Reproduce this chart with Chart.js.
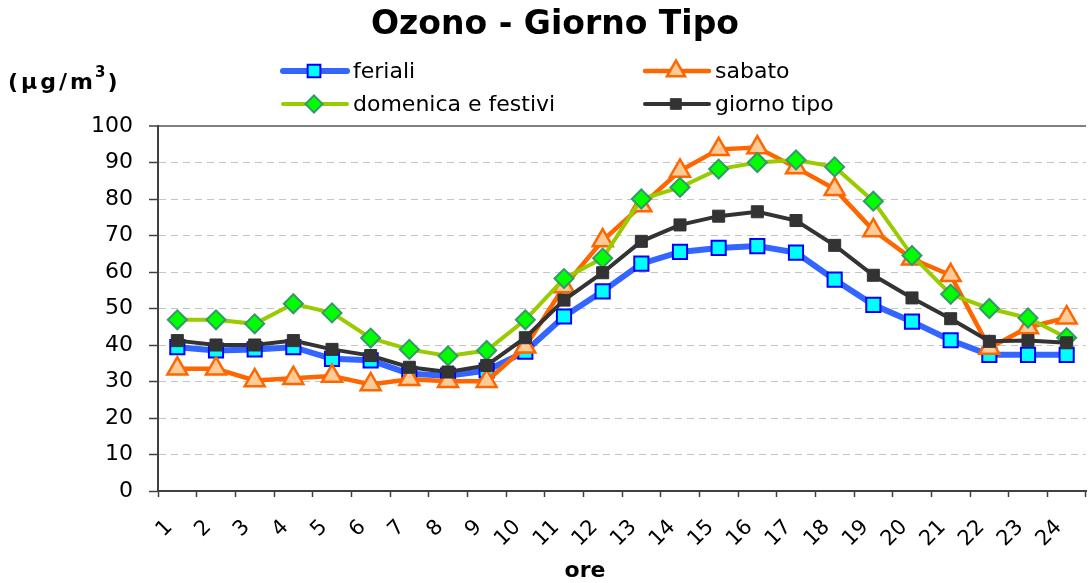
<!DOCTYPE html>
<html>
<head>
<meta charset="utf-8">
<title>Ozono - Giorno Tipo</title>
<script src="https://cdn.jsdelivr.net/npm/chart.js@4/dist/chart.umd.min.js"></script>
<style>
  html, body { margin: 0; padding: 0; background: #fff; overflow: hidden; }
  #wrap { width: 1100px; height: 583px; }
</style>
</head>
<body>
<div id="wrap"><canvas id="ozonoChart" width="1100" height="583"></canvas></div>
<script>
/* ozone typical day, ug/m3 per hour */
const ORE = ["1", "2", "3", "4", "5", "6", "7", "8", "9", "10", "11", "12",
  "13", "14", "15", "16", "17", "18", "19", "20", "21", "22", "23", "24"];

const FERIALI = [39.4, 38.5, 38.8, 39.4, 36.2, 35.8, 32.1, 31.6, 33.0, 38.2, 47.8, 54.7,
  62.3, 65.5, 66.6, 67.1, 65.3, 57.9, 51.0, 46.4, 41.3, 37.3, 37.3, 37.3];
const SABATO = [33.5, 33.5, 30.3, 30.9, 31.5, 29.2, 30.6, 30.1, 30.1, 39.5, 56.0, 68.6,
  78.2, 87.7, 93.6, 94.1, 88.6, 82.7, 71.4, 63.6, 59.1, 39.2, 44.8, 47.5];
const DOMENICA = [46.9, 46.9, 45.8, 51.3, 48.8, 41.9, 38.8, 37.0, 38.5, 46.9, 58.2, 63.8,
  80.0, 83.2, 88.2, 90.0, 90.7, 88.8, 79.4, 64.5, 53.9, 50.0, 47.4, 42.0];
const GIORNO_TIPO = [41.2, 40.0, 40.0, 41.2, 38.8, 37.1, 33.9, 32.6, 34.4, 42.0, 52.3, 59.8,
  68.4, 72.9, 75.3, 76.5, 74.1, 67.3, 59.1, 52.9, 47.2, 41.0, 41.2, 40.6];

const Y_MIN = 0;
const Y_MAX = 100;
const Y_STEP = 10;

const FONT = "'DejaVu Sans', Verdana, sans-serif";
const AXIS_COLOR = "#404040";

function series(label, data, opts) {
  return Object.assign({
    label: label,
    data: data,
    fill: false,
    tension: 0,
  }, opts);
}

const datasets = [
  series("feriali", FERIALI, {
    order: 4,
    borderColor: "#3366ff",
    borderWidth: 6,
    pointStyle: "rect",
    pointRadius: 10,
    pointBackgroundColor: "#00ffff",
    pointBorderColor: "#0000ff",
    pointBorderWidth: 2,
  }),
  series("sabato", SABATO, {
    order: 3,
    borderColor: "#ff6600",
    borderWidth: 4.5,
    pointStyle: "triangle",
    pointRadius: 11.5,
    pointBackgroundColor: "#ffcc99",
    pointBorderColor: "#ff6600",
    pointBorderWidth: 2.5,
  }),
  series("domenica e festivi", DOMENICA, {
    order: 2,
    borderColor: "#99cc00",
    borderWidth: 4,
    pointStyle: "rectRot",
    pointRadius: 9.5,
    pointBackgroundColor: "#00ff00",
    pointBorderColor: "#339966",
    pointBorderWidth: 2,
  }),
  series("giorno tipo", GIORNO_TIPO, {
    order: 1,
    borderColor: "#333333",
    borderWidth: 4,
    pointStyle: "rect",
    pointRadius: 8.5,
    pointBackgroundColor: "#333333",
    pointBorderColor: "#333333",
    pointBorderWidth: 1,
  }),
];

// title, unit label, two-column legend and "ore" drawn straight on the canvas
const overlay = {
  id: "overlay",
  afterDraw(chart) {
    const ctx = chart.ctx;
    ctx.save();
    ctx.fillStyle = "#000";
    ctx.textBaseline = "alphabetic";

    ctx.textAlign = "center";
    ctx.font = "bold 33px " + FONT;
    ctx.fillText("Ozono - Giorno Tipo", 555, 34);

    // (µg/m³)
    ctx.textAlign = "left";
    let x = 8;
    ctx.font = "bold 22px " + FONT;
    ["(", "\u00b5", "g", "/", "m"].forEach((ch) => {
      ctx.fillText(ch, x, 89);
      x += ctx.measureText(ch).width + 3;
    });
    ctx.font = "bold 15px " + FONT;
    ctx.fillText("3", x - 1, 77);
    x += ctx.measureText("3").width + 1;
    ctx.font = "bold 22px " + FONT;
    ctx.fillText(")", x, 89);

    // legend
    const cols = [283, 645];
    const rows = [71, 104];
    chart.data.datasets.forEach((ds, i) => {
      const x0 = cols[i % 2];
      const y0 = rows[Math.floor(i / 2)];
      ctx.strokeStyle = ds.borderColor;
      ctx.lineWidth = ds.borderWidth;
      ctx.lineCap = "round";
      ctx.beginPath();
      ctx.moveTo(x0, y0);
      ctx.lineTo(x0 + 64, y0);
      ctx.stroke();
      ctx.fillStyle = ds.pointBackgroundColor;
      ctx.strokeStyle = ds.pointBorderColor;
      ctx.lineWidth = ds.pointBorderWidth;
      Chart.helpers.drawPoint(ctx, {
        pointStyle: ds.pointStyle,
        radius: ds.pointRadius - 1,
        borderWidth: ds.pointBorderWidth,
        rotation: 0,
      }, x0 + 31, y0);
      ctx.fillStyle = "#000";
      ctx.font = "22px " + FONT;
      ctx.textBaseline = "middle";
      ctx.fillText(ds.label, x0 + 70, y0 + 1);
      ctx.textBaseline = "alphabetic";
    });

    ctx.textAlign = "center";
    ctx.font = "bold 22px " + FONT;
    ctx.fillText("ore", 585, 577);
    ctx.restore();
  },
};

new Chart(document.getElementById("ozonoChart"), {
  type: "line",
  data: { labels: ORE, datasets: datasets },
  options: {
    responsive: false,
    animation: false,
    events: [],
    layout: { padding: { top: 126, right: 1, left: 0, bottom: 0 } },
    plugins: {
      legend: { display: false },
      title: { display: false },
      tooltip: { enabled: false },
    },
    scales: {
      x: {
        offset: true,
        afterFit(scale) {
          scale.height = 92;
          scale.paddingLeft = 0;
          scale.paddingRight = 0;
        },
        grid: {
          offset: true,
          drawOnChartArea: false,
          tickLength: 6,
          tickColor: AXIS_COLOR,
          tickWidth: 1.5,
        },
        border: { color: AXIS_COLOR, width: 2 },
        ticks: {
          autoSkip: false,
          minRotation: 45,
          maxRotation: 45,
          padding: 18,
          labelOffset: -8,
          color: "#000",
          font: { family: FONT, size: 21 },
        },
      },
      y: {
        min: Y_MIN,
        max: Y_MAX,
        afterFit(scale) { scale.width = 158; },
        grid: {
          color: (c) => (c.tick && c.tick.value === Y_MAX ? "#808080" : "#c4c4c4"),
          lineWidth: (c) => (c.tick && c.tick.value === Y_MAX ? 2 : 1),
          tickLength: 9,
          tickColor: AXIS_COLOR,
          tickWidth: 1.5,
        },
        border: {
          color: AXIS_COLOR,
          width: 2,
          dash: (c) => (c.tick && c.tick.value === Y_MAX ? [] : [7, 5]),
        },
        ticks: {
          stepSize: Y_STEP,
          padding: 16,
          color: "#000",
          font: { family: FONT, size: 22 },
        },
      },
    },
  },
  plugins: [overlay],
});
</script>
</body>
</html>
